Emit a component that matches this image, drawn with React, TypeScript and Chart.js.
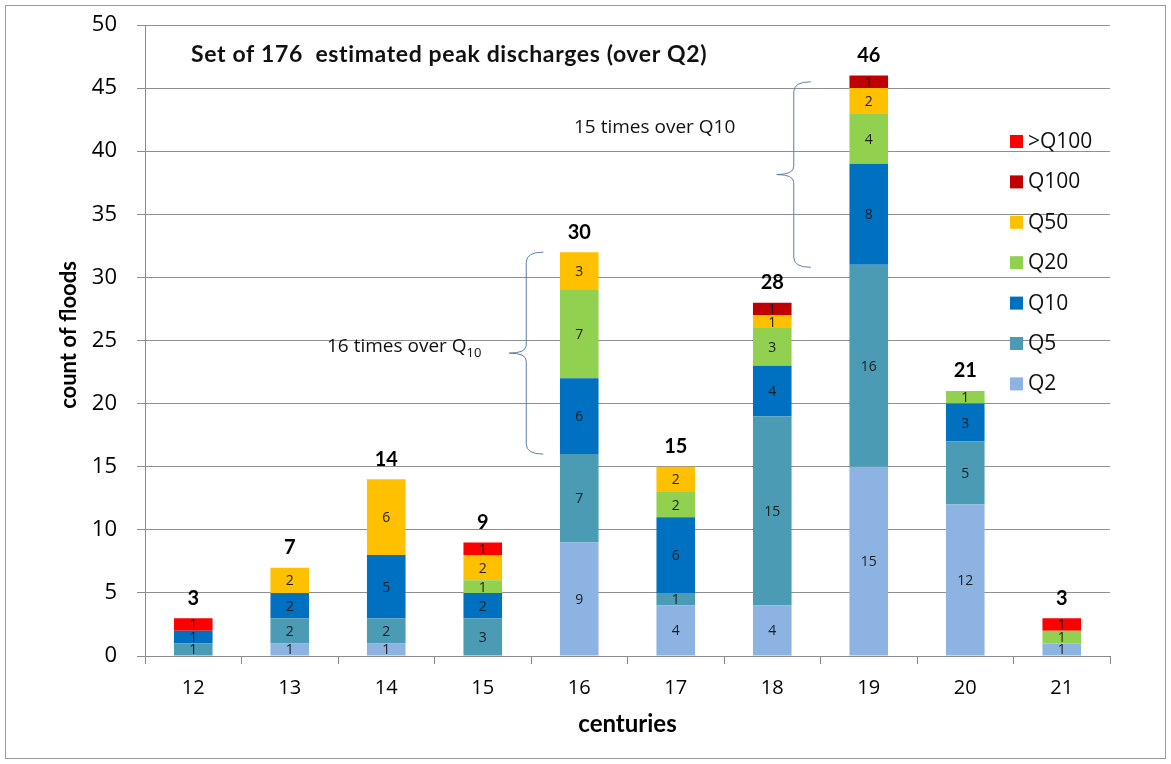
import React, { useEffect, useRef } from "react";
import { Chart, registerables } from "chart.js";
Chart.register(...registerables);

const categories = ["12", "13", "14", "15", "16", "17", "18", "19", "20", "21"];
const q2 = [0, 1, 1, 0, 9, 4, 4, 15, 12, 1];
const q5 = [1, 2, 2, 3, 7, 1, 15, 16, 5, 0];
const q10 = [1, 2, 5, 2, 6, 6, 4, 8, 3, 0];
const q20 = [0, 0, 0, 1, 7, 2, 3, 4, 1, 1];
const q50 = [0, 2, 6, 2, 3, 2, 1, 2, 0, 0];
const q100 = [0, 0, 0, 0, 0, 0, 1, 1, 0, 0];
const qOver100 = [1, 0, 0, 1, 0, 0, 0, 0, 0, 1];
const totalLabels = ["3", "7", "14", "9", "30", "15", "28", "46", "21", "3"];
const seriesNames = ["Q2", "Q5", "Q10", "Q20", "Q50", "Q100", ">Q100"];
const seriesColors = ["#8DB3E2", "#4A9BB3", "#0070C0", "#92D050", "#FFC000", "#C00000", "#FF0000"];
const seriesValues = [q2, q5, q10, q20, q50, q100, qOver100];
const yTicks = [0, 5, 10, 15, 20, 25, 30, 35, 40, 45, 50];
// braces: [category index, from value, to value, offset]
const braces: [number, number, number, number][] = [
  [4, 16, 32, 36],
  [7, 30.8, 45.5, 58],
];

const FONT = "'Open Sans', 'DejaVu Sans', sans-serif";
const BFONT = "Lato, 'Open Sans', sans-serif";

function fitText(ctx: any, text: string, x: number, y: number, width: number) {
  const w = ctx.measureText(text).width;
  const extra = (width - w) / Math.max(1, text.length - 1);
  ctx.letterSpacing = `${extra}px`;
  ctx.fillText(text, x, y);
  ctx.letterSpacing = "0px";
}

const overlayPlugin = {
  id: "overlay",
  afterDatasetsDraw(chart: any) {
    const ctx = chart.ctx;
    const xs = chart.scales.x;
    const ys = chart.scales.y;
    ctx.save();
    // segment value labels
    ctx.font = `14px ${FONT}`;
    ctx.textAlign = "center";
    ctx.textBaseline = "middle";
    ctx.fillStyle = "#1e1e1e";
    chart.data.datasets.forEach((ds: any, di: number) => {
      const meta = chart.getDatasetMeta(di);
      meta.data.forEach((bar: any, i: number) => {
        const v = ds.data[i];
        if (!v) return;
        ctx.fillText(String(v), bar.x, (bar.y + bar.base) / 2 + 1);
      });
    });
    // totals
    ctx.font = `bold 20px ${BFONT}`;
    categories.forEach((c, i) => {
      let sum = 0;
      seriesValues.forEach((s) => (sum += s[i]));
      const x = xs.getPixelForValue(i);
      const y = ys.getPixelForValue(sum) - 20;
      ctx.fillStyle = "#000";
      ctx.fillText(totalLabels[i], x, y);
    });
    // braces
    ctx.strokeStyle = "#5B7FA6";
    ctx.lineWidth = 1;
    braces.forEach(([ci, from, to, off]) => {
      const cx = xs.getPixelForValue(ci);
      const tipX = cx - off;
      const lineX = tipX - 17;
      const pointX = lineX - 17;
      const yTop = ys.getPixelForValue(to);
      const yBot = ys.getPixelForValue(from);
      const yMid = (yTop + yBot) / 2;
      ctx.beginPath();
      ctx.moveTo(tipX, yTop);
      ctx.quadraticCurveTo(lineX, yTop, lineX, yTop + 10);
      ctx.lineTo(lineX, yMid - 8);
      ctx.quadraticCurveTo(lineX, yMid, pointX, yMid);
      ctx.quadraticCurveTo(lineX, yMid, lineX, yMid + 8);
      ctx.lineTo(lineX, yBot - 10);
      ctx.quadraticCurveTo(lineX, yBot, tipX, yBot);
      ctx.stroke();
    });
    // annotation texts
    ctx.fillStyle = "#111";
    ctx.textAlign = "left";
    ctx.textBaseline = "middle";
    ctx.font = `bold 23px ${BFONT}`;
    fitText(ctx, "Set of 176  estimated peak discharges (over Q2)", 191, 55, 516);
    ctx.font = `19px ${FONT}`;
    const t1 = "16 times over Q";
    ctx.fillText(t1, 327, 347);
    const w1 = ctx.measureText(t1).width;
    ctx.font = `13px ${FONT}`;
    ctx.fillText("10", 327 + w1, 353);
    ctx.font = `19px ${FONT}`;
    ctx.fillText("15 times over Q10", 574, 128);
    // axis titles
    ctx.fillStyle = "#000";
    ctx.textAlign = "center";
    ctx.font = `bold 24px ${BFONT}`;
    ctx.fillText("centuries", (chart.chartArea.left + chart.chartArea.right) / 2, 724);
    ctx.save();
    ctx.translate(69, 335);
    ctx.rotate(-Math.PI / 2);
    ctx.font = `bold 22px ${BFONT}`;
    ctx.fillText("count of floods", 0, 0);
    ctx.restore();
    // legend
    ctx.textAlign = "left";
    ctx.font = `21px ${FONT}`;
    for (let k = seriesNames.length - 1; k >= 0; k--) {
      const row = seriesNames.length - 1 - k;
      const y = 141 + row * 40.4;
      ctx.fillStyle = seriesColors[k];
      ctx.fillRect(1010, y - 6, 13, 13);
      ctx.fillStyle = "#111";
      ctx.fillText(seriesNames[k], 1028, y + 1);
    }
    // frame
    ctx.strokeStyle = "#9a9a9a";
    ctx.strokeRect(5.5, 5.5, 1160, 753);
    ctx.restore();
  },
};

export default function App() {
  const ref = useRef<HTMLCanvasElement>(null);
  useEffect(() => {
    document.body.style.margin = "0";
    const chart = new Chart(ref.current!, {
      type: "bar",
      data: {
        labels: categories,
        datasets: seriesNames.map((n, k) => ({
          label: n,
          data: seriesValues[k],
          backgroundColor: seriesColors[k],
          borderWidth: 0,
          barPercentage: 0.4,
          categoryPercentage: 1,
        })),
      },
      options: {
        animation: false,
        responsive: false,
        layout: { padding: { top: 25, right: 61, left: 0, bottom: 0 } },
        plugins: { legend: { display: false }, tooltip: { enabled: false } },
        scales: {
          x: {
            stacked: true,
            grid: { drawOnChartArea: false, drawTicks: true, tickLength: 8, color: "#8a8a8a", offset: true },
            border: { color: "#8a8a8a" },
            ticks: { color: "#000", font: { size: 20, family: FONT }, padding: 12 },
            afterFit: (s: any) => {
              s.height = 108;
              s.paddingLeft = 0;
              s.paddingRight = 0;
            },
          },
          y: {
            stacked: true,
            min: 0,
            max: 50,
            afterBuildTicks: (s: any) => {
              s.ticks = yTicks.map((v) => ({ value: v }));
            },
            grid: { color: "#8f8f8f", tickLength: 8 },
            border: { color: "#8a8a8a" },
            ticks: { color: "#000", font: { size: 22, family: FONT }, padding: 20 },
            afterFit: (s: any) => {
              s.width = 145;
              s.paddingTop = 0;
              s.paddingBottom = 0;
            },
          },
        },
      },
      plugins: [overlayPlugin],
    } as any);
    return () => chart.destroy();
  }, []);
  return (
    <div style={{ width: 1171, height: 764, background: "#fff" }}>
      <canvas ref={ref} width={1171} height={764} style={{ display: "block" }} />
    </div>
  );
}
